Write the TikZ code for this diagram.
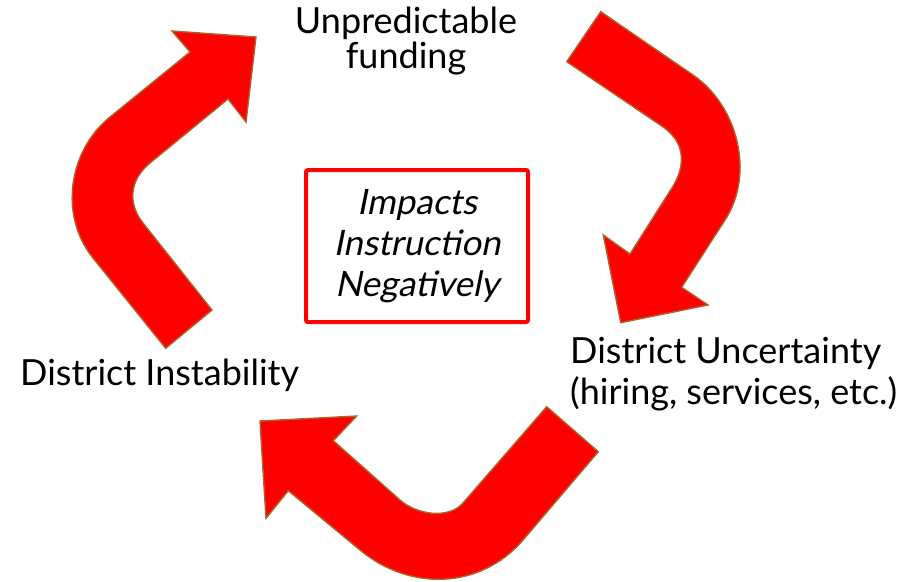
\documentclass[tikz,border=0pt]{standalone}
\usepackage{fontspec}
\setmainfont{Lato}
\newfontfamily\oblfont[FakeSlant=0.2]{Lato}
\definecolor{arrowred}{RGB}{255,0,0}
\definecolor{arrowedge}{RGB}{170,100,45}
\begin{document}
\begin{tikzpicture}[x=1pt,y=-1pt,
  bigarrow/.style={fill=arrowred,draw=arrowedge,line width=1.4pt,line join=miter},
  label/.style={font=\fontsize{36}{41}\selectfont,align=center,inner sep=0pt},
  centerbox/.style={draw=arrowred,line width=4pt,rounded corners=2pt,minimum width=222pt,minimum height=152pt,
     font=\fontsize{35}{41}\selectfont\oblfont,align=center}]
\useasboundingbox (0,0) rectangle (920,581);
% left arrow (up-right)
\path[bigarrow] (165.7,348.3) -- (93,258) .. controls (59,216) and (68,151) .. (110,117)
  -- (190,52) -- (172,31) -- (256,37) -- (246,122) -- (228,99) -- (150,163)
  .. controls (130,179.5) and (127,202.7) .. (143,223) -- (212,310) -- cycle;
% right arrow (down)
\path[bigarrow] (600.7,11.7) -- (693,75) .. controls (738,106) and (755,174) .. (725,220)
  -- (681.7,287.3) -- (708,305) -- (620.7,322.7) -- (603.3,235) -- (630,254) -- (671.7,188.3)
  .. controls (686.8,164.6) and (685,141.7) .. (661.7,126) -- (566.7,61.7) -- cycle;
% bottom arrow (left)
\path[bigarrow] (598.3,451.7) -- (523,540) .. controls (480.75,589.4) and (410,591.6) .. (360,550)
  -- (288.3,490.7) -- (266,518.3) -- (260,421) -- (356.7,416) -- (333.3,440.7) -- (400,500)
  .. controls (416.4,514.6) and (448.6,519.6) .. (463,503) -- (546.7,406.7) -- cycle;
\node[label,font=\fontsize{36}{35}\selectfont,anchor=base] (fund) at (406,68) {Unpredictable\\funding};
\node[label,anchor=base west] (instab) at (20,385.7) {District Instability};
\node[label,align=left,anchor=base west] (uncert) at (570,404) {District Uncertainty\\(hiring, services, etc.)};
\node[centerbox] (impact) at (417,246) {Impacts\\Instruction\\Negatively};
\end{tikzpicture}
\end{document}
